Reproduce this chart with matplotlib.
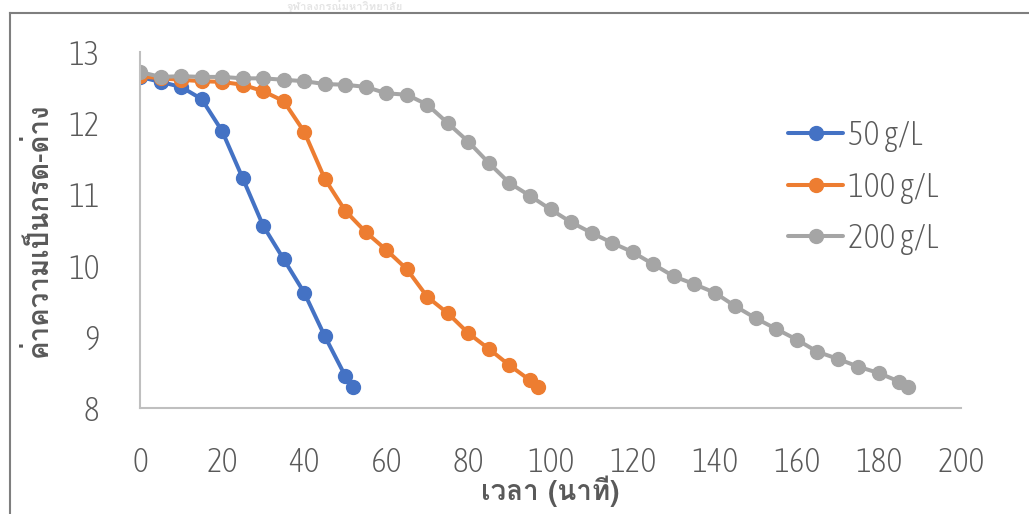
import matplotlib
matplotlib.use("Agg")
import matplotlib.pyplot as plt
from matplotlib import font_manager
from matplotlib.font_manager import FontProperties
from matplotlib.ft2font import FT2Font
from matplotlib.lines import Line2D

# ---------------- data ----------------
x_50 = [0, 5, 10, 15, 20, 25, 30, 35, 40, 45, 50, 52]
y_50 = [12.65, 12.58, 12.51, 12.34, 11.89, 11.23, 10.56, 10.09, 9.62, 9.01, 8.45, 8.29]

x_100 = [0, 5, 10, 15, 20, 25, 30, 35, 40, 45, 50, 55, 60, 65, 70, 75, 80, 85, 90, 95, 97]
y_100 = [12.66, 12.63, 12.61, 12.59, 12.58, 12.54, 12.45, 12.31, 11.88, 11.22, 10.77,
         10.47, 10.22, 9.95, 9.56, 9.33, 9.05, 8.83, 8.60, 8.39, 8.29]

x_200 = [0, 5, 10, 15, 20, 25, 30, 35, 40, 45, 50, 55, 60, 65, 70, 75, 80, 85, 90, 95,
         100, 105, 110, 115, 120, 125, 130, 135, 140, 145, 150, 155, 160, 165, 170, 175,
         180, 185, 187]
y_200 = [12.72, 12.65, 12.66, 12.65, 12.65, 12.63, 12.63, 12.61, 12.59, 12.55, 12.54,
         12.51, 12.42, 12.40, 12.26, 12.00, 11.74, 11.44, 11.16, 10.98, 10.79, 10.61,
         10.46, 10.32, 10.19, 10.02, 9.85, 9.74, 9.62, 9.43, 9.26, 9.11, 8.96, 8.79,
         8.69, 8.58, 8.49, 8.37, 8.29]

series_labels = ["50 g/L", "100 g/L", "200 g/L"]
series_colors = ["#4472C4", "#ED7D31", "#A5A5A5"]
x_ticks = [0, 20, 40, 60, 80, 100, 120, 140, 160, 180, 200]
y_ticks = [8, 9, 10, 11, 12, 13]
x_title = "เวลา (นาที)"
y_title = "ค่าความเป็นกรด-ด่าง"
watermark = "จุฬาลงกรณ์มหาวิทยาลัย"

# ---------------- fonts ----------------
def covers(path, ch):
    try:
        return ord(ch) in FT2Font(path).get_charmap()
    except Exception:
        return False

thai_font = None
for f in font_manager.fontManager.ttflist:
    if covers(f.fname, "ว"):
        thai_font = f.name
        break
thai_family = [thai_font, "DejaVu Sans"] if thai_font else ["DejaVu Sans"]

# a narrow, light font for the numbers (Excel-like thin condensed digits)
def score(f):
    n = (f.name + " " + str(f.style)).lower()
    s = 0
    st = str(f.stretch).lower()
    if "narrow" in n or "condensed" in n or "condensed" in st or st in ("semi-condensed",):
        s += 10
    w = f.weight if isinstance(f.weight, int) else {"light": 300, "normal": 400,
                                                    "regular": 400, "book": 400}.get(str(f.weight).lower(), 500)
    if w <= 300:
        s += 4
    elif w == 400:
        s += 2
    if f.style != "normal":
        s -= 20
    return s

best = None
for f in font_manager.fontManager.ttflist:
    if not covers(f.fname, "8"):
        continue
    sc = score(f)
    if best is None or sc > best[0]:
        best = (sc, f)
NUM_SIZE = 24
num_prop = FontProperties(fname=best[1].fname, size=NUM_SIZE) if best else FontProperties(size=18)

TXT = "#595959"

fig = plt.figure(figsize=(10.29, 5.14), dpi=100)
ax = fig.add_axes([140 / 1029, 1 - 408 / 514, (961 - 140) / 1029, (408 - 52) / 514])

handles = []
for xs, ys, lab, col in zip([x_50, x_100, x_200], [y_50, y_100, y_200],
                            series_labels, series_colors):
    h, = ax.plot(xs, ys, color=col, lw=2.9, marker="o", ms=10, mec=col, mfc=col,
                 label=lab, solid_capstyle="round")
    handles.append(h)

ax.set_xlim(0, 200)
ax.set_ylim(8, 13)
ax.set_xticks(x_ticks)
ax.set_yticks(y_ticks)
for s in ["top", "right"]:
    ax.spines[s].set_visible(False)
for s in ["left", "bottom"]:
    ax.spines[s].set_color("#BFBFBF")
    ax.spines[s].set_linewidth(1.5)
ax.tick_params(axis="both", length=0, colors=TXT)
ax.tick_params(axis="x", pad=27)
ax.tick_params(axis="y", pad=29)
for t in ax.get_xticklabels() + ax.get_yticklabels():
    t.set_fontproperties(num_prop)
    t.set_color(TXT)

ax.set_xlabel(x_title, family=thai_family, fontsize=20, fontweight="bold", color=TXT,
              labelpad=-2)
ax.set_ylabel(y_title, family=thai_family, fontsize=20, fontweight="bold", color=TXT,
              labelpad=12)

leg = ax.legend(handles=handles, loc="center left",
                bbox_to_anchor=((788 - 140) / 821, (408 - 187) / 356),
                frameon=False, prop=num_prop,
                handlelength=1.65, handletextpad=0.15, labelspacing=0.55,
                borderaxespad=0, borderpad=0)
for t in leg.get_texts():
    t.set_color(TXT)

# faint watermark at the very top (page header bleeding into the picture)
fig.text(345 / 1029, 1.0, watermark, family=thai_family, fontsize=8, fontweight="bold",
         color="#E4E4E4", ha="center", va="top", zorder=0)

# outer chart border (left and top edges visible)
fig.add_artist(Line2D([10 / 1029, 10 / 1029], [0, 1 - 13 / 514], transform=fig.transFigure,
                      color="#7F7F7F", lw=1.5))
fig.add_artist(Line2D([10 / 1029, 1], [1 - 13 / 514, 1 - 13 / 514], transform=fig.transFigure,
                      color="#7F7F7F", lw=1.5))

fig.savefig("out.png", dpi=100)
